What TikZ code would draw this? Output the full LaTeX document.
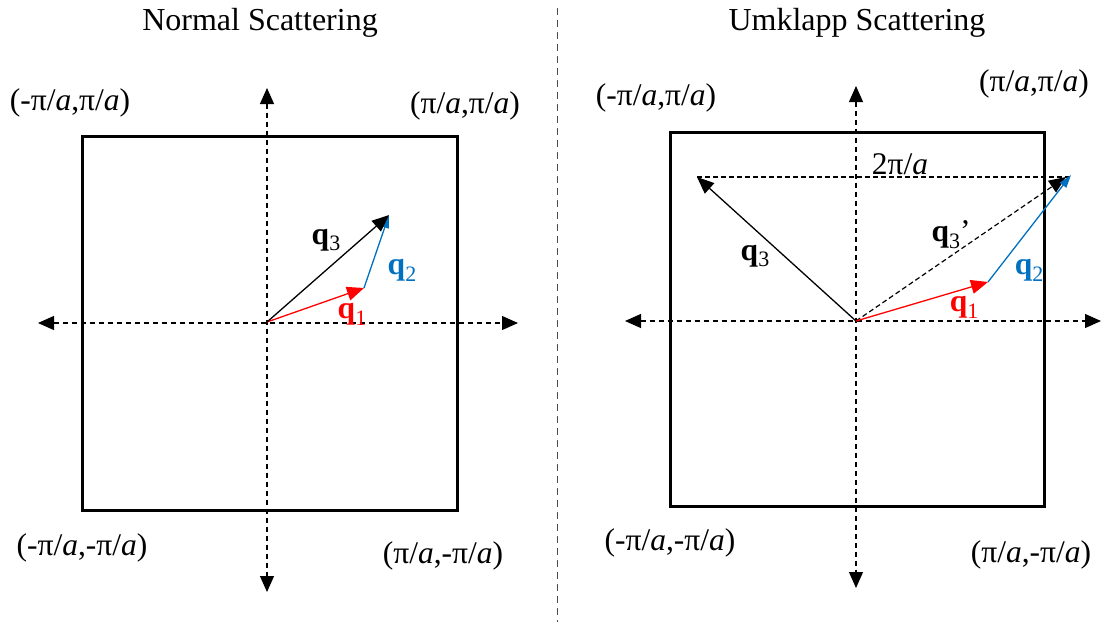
\documentclass[tikz,border=0pt]{standalone}
\usepackage{fontspec}
\setmainfont{Liberation Serif}
\usetikzlibrary{arrows.meta}
\newcommand\qv[1]{\textbf{q}\raisebox{-0.22em}{\fontsize{22}{22}\selectfont #1}}
\newcommand\pia{π/\textit{a}}
\definecolor{qred}{RGB}{255,0,0}
\definecolor{qblue}{RGB}{0,112,192}
\begin{document}
\begin{tikzpicture}[x=1pt,y=-1pt,
  lab/.style={font=\fontsize{31.5}{34}\selectfont, inner sep=0pt},
  ttl/.style={font=\fontsize{32}{35}\selectfont, inner sep=0pt},
  axis/.style={line width=1.2pt, dash pattern=on 5pt off 4pt,
    {Triangle[length=16pt,width=14pt]}-{Triangle[length=16pt,width=14pt]}},
  divider/.style={line width=1pt, black!70, dash pattern=on 7pt off 5pt},
  zone/.style={line width=3pt},
  vec/.style={line width=1.3pt, -{Triangle[length=17pt,width=14pt]}},
  thinvec/.style={line width=1.3pt, -{Triangle[length=13pt,width=8pt]}},
  dvec/.style={line width=1.2pt, dash pattern=on 5pt off 3pt, -{Triangle[length=17pt,width=14pt]}},
  guide/.style={line width=1.1pt, dash pattern=on 5pt off 3pt}]
\useasboundingbox (0,0) rectangle (1101,622);
% titles and divider
\node[ttl] (t1) at (260,23) {Normal Scattering};
\node[ttl] (t2) at (857,23) {Umklapp Scattering};
\coordinate (d1) at (557,8);
\coordinate (d2) at (557,622);
\draw[divider] (d1) -- (d2);

% ---------- left panel ----------
\draw[zone] (82,136) rectangle (457,510);
\coordinate (L1) at (38,323);
\coordinate (R1) at (518,323);
\coordinate (T1) at (267,88);
\coordinate (B1) at (267,592);
\draw[axis] (L1) -- (R1);
\draw[axis] (T1) -- (B1);
\coordinate (O1) at (267,322);
\coordinate (A1) at (364,288);
\coordinate (C1) at (389,215);
\draw[vec, qred] (O1) -- (A1);
\draw[thinvec, qblue] (A1) -- (C1);
\draw[vec] (O1) -- (C1);
\node[lab, qred] (q1a) at (352,314) {\qv{1}};
\node[lab, qblue] (q2a) at (402,270) {\qv{2}};
\node[lab] (q3a) at (326,240) {\qv{3}};
\node[lab] (c1) at (70,103) {(-\pia,\pia)};
\node[lab] (c2) at (465,106) {(\pia,\pia)};
\node[lab] (c3) at (82,548) {(-\pia,-\pia)};
\node[lab] (c4) at (443,556) {(\pia,-\pia)};

% ---------- right panel ----------
\draw[zone] (670,132) rectangle (1044,506);
\coordinate (L2) at (625,321);
\coordinate (R2) at (1101,321);
\coordinate (T2) at (856,86);
\coordinate (B2) at (856,588);
\draw[axis] (L2) -- (R2);
\draw[axis] (T2) -- (B2);
\coordinate (O2) at (856,321);
\coordinate (A2) at (988,282);
\coordinate (C2) at (1071,175);
\coordinate (D2) at (697,177);
\coordinate (E2) at (1066,177);
\coordinate (F2) at (1072,177);
\draw[guide] (D2) -- (F2);
\draw[dvec] (O2) -- (E2);
\draw[vec, qred] (O2) -- (A2);
\draw[thinvec, qblue] (A2) -- (C2);
\draw[vec] (O2) -- (D2);
\node[lab, qred] (q1b) at (964,307) {\qv{1}};
\node[lab, qblue] (q2b) at (1029,270) {\qv{2}};
\node[lab] (q3b) at (755,256) {\qv{3}};
\node[lab] (q3p) at (951,235) {\qv{3}’};
\node[lab] (tpa) at (900,164) {2\pia};
\node[lab] (c5) at (656,98) {(-\pia,\pia)};
\node[lab] (c6) at (1034,84) {(\pia,\pia)};
\node[lab] (c7) at (670,543) {(-\pia,-\pia)};
\node[lab] (c8) at (1031,555) {(\pia,-\pia)};
\end{tikzpicture}
\end{document}
